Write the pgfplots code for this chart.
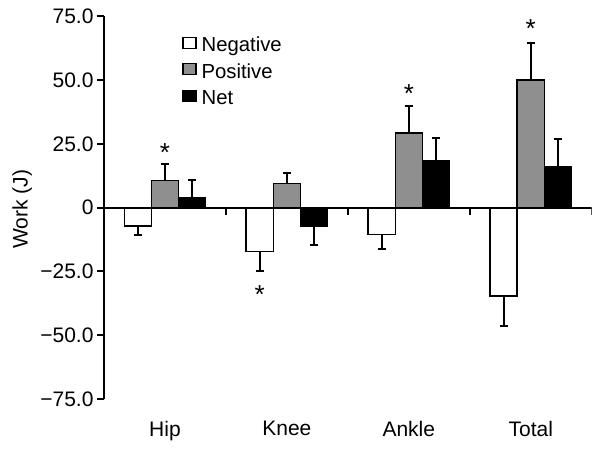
\documentclass[border=0pt]{standalone}
\usepackage{fontspec}
\setmainfont{Liberation Sans}
\usepackage{pgfplots}
\pgfplotsset{compat=1.18}
\definecolor{posgray}{gray}{0.56}

\begin{document}
\begin{tikzpicture}
\useasboundingbox (0,0) rectangle (600pt,450pt);
\begin{axis}[
  at={(104pt,51pt)}, anchor=south west,
  scale only axis, width=487.7pt, height=382.7pt,
  xmin=-0.5, xmax=3.5, ymin=-75, ymax=75,
  axis y line*=left, axis x line*=bottom,
  x axis line style={draw=none},
  xtick={0,1,2,3}, xticklabels={Hip,Knee,Ankle,Total},
  x tick style={draw=none},
  xticklabel style={font=\fontsize{21}{25}\selectfont, yshift=-12pt},
  ytick={-75,-50,-25,0,25,50,75},
  yticklabels={−75.0,−50.0,−25.0,0,25.0,50.0,75.0},
  yticklabel style={font=\fontsize{21}{24}\selectfont},
  y axis line style={line width=2pt},
  y tick style={line width=2pt, black},
  tick align=outside, major tick length=7pt,
  ylabel={Work (J)},
  ylabel style={font=\fontsize{21}{24}\selectfont, at={(axis description cs:-0.168,0.4965)}, anchor=center},
  ybar=0pt, bar width=0.223,
  every axis plot/.append style={draw=black, line width=1.3pt,
    error bars/y dir=both, error bars/y explicit,
    error bars/error mark=-,
    error bars/error bar style={line width=2pt, black},
    error bars/error mark options={rotate=90, line width=2pt, mark size=4pt, black}},
  legend style={at={(axis description cs:0.1540,0.956)}, anchor=north west,
    draw=none, fill=none, font=\fontsize{20.3}{24}\selectfont, row sep=4pt,
    nodes={text height=14.5pt, text depth=4pt, inner sep=2pt}},
  legend cell align=left,
  legend image code/.code={\draw[#1, line width=1.3pt] (0pt,-1.7pt) rectangle (13pt,9.3pt);},
]
% Negative
\addplot[fill=white] coordinates {
  (0,-7.2) -= (0,3.4)
  (1,-17.2) -= (0,7.7)
  (2,-10.6) -= (0,5.5)
  (3,-34.6) -= (0,11.6)
};
% Positive
\addplot[fill=posgray] coordinates {
  (0,10.7) += (0,6.3)
  (1,9.4) += (0,4.2)
  (2,29.3) += (0,10.7)
  (3,50.0) += (0,14.4)
};
% Net
\addplot[fill=black] coordinates {
  (0,3.9) += (0,6.8)
  (1,-7.3) -= (0,7.5)
  (2,18.6) += (0,8.7)
  (3,15.9) += (0,11.2)
};
\legend{\hspace{3pt}Negative,\hspace{3pt}Positive,\hspace{3pt}Net}

% zero line with category boundary ticks
\draw[line width=2pt] (axis cs:-0.5,0) -- (axis cs:3.5,0);
\pgfplotsinvokeforeach{0.5,1.5,2.5,3.5}{
  \draw[line width=2pt] (axis cs:#1,0) -- ([yshift=-7pt]axis cs:#1,0);
}

% significance marks
\tikzset{star/.style={font=\fontsize{26}{26}\selectfont, anchor=base, yshift=-12pt, inner sep=0pt}}
\node[star] at (axis cs:0,22.7) {*};
\node[star] at (axis cs:0.777,-32.7) {*};
\node[star] at (axis cs:2,46.0) {*};
\node[star] at (axis cs:3,71.3) {*};
\end{axis}
\end{tikzpicture}
\end{document}
